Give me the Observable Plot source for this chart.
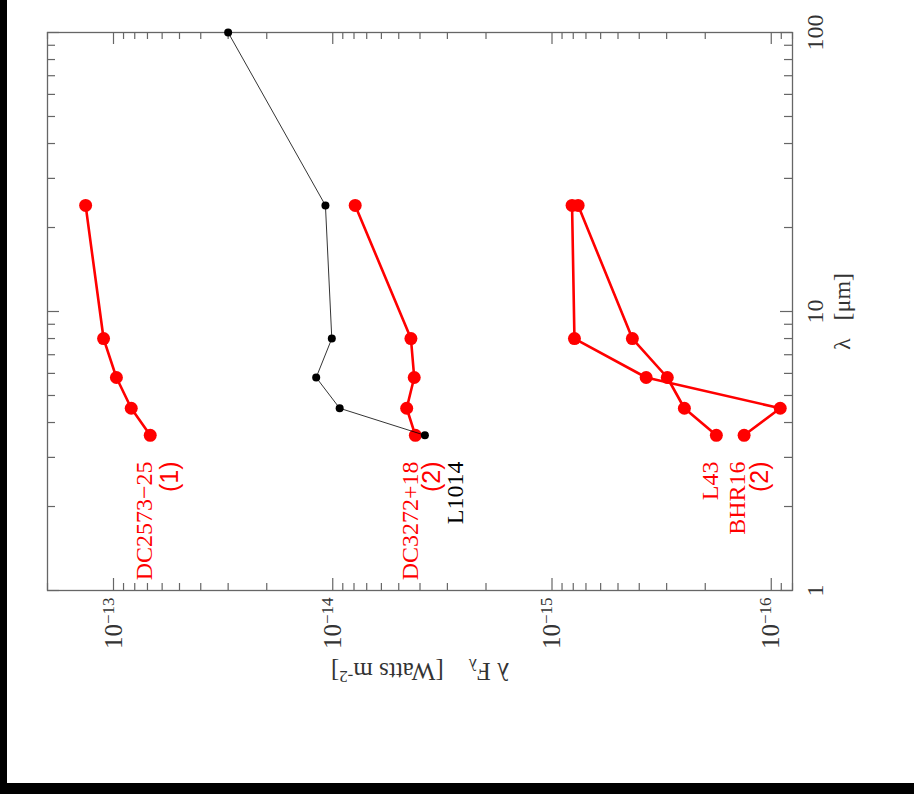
<!DOCTYPE html>
<html><head><meta charset="utf-8">
<script src="https://cdn.jsdelivr.net/npm/d3@7"></script>
<script src="https://cdn.jsdelivr.net/npm/@observablehq/plot@0.6"></script>
<style>
html,body{margin:0;padding:0;background:#000;width:914px;height:794px;overflow:hidden;}
#chart{position:absolute;left:7px;top:0;}
</style>
</head><body><div id="chart"></div>
<script>
// Wavelengths (micron)
const wavelengths = [3.6, 4.5, 5.8, 8.0, 24];
const l1014Wavelengths = [3.6, 4.5, 5.8, 8.0, 24, 100];
// lambda F_lambda (W m^-2)
const dc2573Flux = [6.8e-14, 8.3e-14, 9.7e-14, 1.11e-13, 1.34e-13];
const dc3272Flux = [4.2e-15, 4.6e-15, 4.25e-15, 4.4e-15, 7.9e-15];
const l43Flux = [1.78e-16, 2.49e-16, 2.98e-16, 4.3e-16, 7.6e-16];
const bhr16Flux = [1.33e-16, 9.1e-17, 3.72e-16, 7.9e-16, 8.1e-16];
const l1014Flux = [3.8e-15, 9.3e-15, 1.19e-14, 1.01e-14, 1.08e-14, 3.0e-14];

// Axis ticks
const fluxMajor = [1e-13, 1e-14, 1e-15, 1e-16];
const fluxTickLabels = ["10^{−13}", "10^{−14}", "10^{−15}", "10^{−16}"];
const lambdaMajor = [1, 10, 100];
const lambdaTickLabels = ["1", "10", "100"];

// Curve annotations (text, flux at label)
const labelLambda = 2.9;
const nameLabels = [
  {text: "DC2573−25", flux: 7.24e-14, color: "#f00"},
  {text: "DC3272+18", flux: 4.43e-15, color: "#f00"},
  {text: "L1014", flux: 2.75e-15, color: "#000"},
  {text: "L43", flux: 1.90e-16, color: "#f00"},
  {text: "BHR16", flux: 1.43e-16, color: "#f00"}
];
const refLabels = [
  {text: "(1)", flux: 5.54e-14},
  {text: "(2)", flux: 3.51e-15},
  {text: "(2)", flux: 1.12e-16}
];

// Build tables
const series = [
  {name: "DC2573-25", flux: dc2573Flux},
  {name: "DC3272+18", flux: dc3272Flux},
  {name: "L43", flux: l43Flux},
  {name: "BHR16", flux: bhr16Flux}
];
const redData = series.flatMap(s => s.flux.map((f, i) => ({name: s.name, lambda: wavelengths[i], flux: f})));
const l1014Data = l1014Flux.map((f, i) => ({lambda: l1014Wavelengths[i], flux: f}));

const fluxDomain = [2e-13, 8e-17];
const lambdaDomain = [1, 100];
const fluxMinor = [];
for (let e = -17; e <= -13; e++) for (let k = 2; k <= 9; k++) {
  const v = k * Math.pow(10, e);
  if (v <= fluxDomain[0] * 1.0001 && v >= fluxDomain[1] * 0.9999) fluxMinor.push(v);
}
const lambdaMinor = [];
for (let e = 0; e <= 1; e++) for (let k = 2; k <= 9; k++) lambdaMinor.push(k * Math.pow(10, e));

const W = 907, H = 783, mL = 40, mR = 122, mT = 32, mB = 193;
const PW = W - mL - mR, PH = H - mT - mB;
const tickColor = "#666";
const serif = "'Liberation Serif', 'DejaVu Serif', serif";

const plot = Plot.plot({
  width: W, height: H,
  marginLeft: mL, marginRight: mR, marginTop: mT, marginBottom: mB,
  style: {background: "#fff", overflow: "visible"},
  x: {type: "log", domain: fluxDomain, axis: null},
  y: {type: "log", domain: lambdaDomain, axis: null},
  marks: [
    Plot.frame({stroke: tickColor, strokeWidth: 1.3}),
    // flux ticks bottom & top
    Plot.tickX(fluxMajor, {x: d => d, insetTop: PH - 12, stroke: tickColor, strokeWidth: 1.2}),
    Plot.tickX(fluxMinor, {x: d => d, insetTop: PH - 7, stroke: tickColor, strokeWidth: 1.2}),
    Plot.tickX(fluxMajor, {x: d => d, insetBottom: PH - 12, stroke: tickColor, strokeWidth: 1.2}),
    Plot.tickX(fluxMinor, {x: d => d, insetBottom: PH - 7, stroke: tickColor, strokeWidth: 1.2}),
    // lambda ticks right & left
    Plot.tickY(lambdaMajor, {y: d => d, insetLeft: PW - 12, stroke: tickColor, strokeWidth: 1.2}),
    Plot.tickY(lambdaMinor, {y: d => d, insetLeft: PW - 8, stroke: tickColor, strokeWidth: 1.2}),
    Plot.tickY(lambdaMajor, {y: d => d, insetRight: PW - 12, stroke: tickColor, strokeWidth: 1.2}),
    Plot.tickY(lambdaMinor, {y: d => d, insetRight: PW - 8, stroke: tickColor, strokeWidth: 1.2}),
    // tick labels
    Plot.text(fluxMajor, {x: d => d, text: (d, i) => fluxTickLabels[i], frameAnchor: "bottom", dy: 7, rotate: -90,
      textAnchor: "end", lineAnchor: "middle", fontSize: 25, fontFamily: serif, fill: "#333"}),
    Plot.text(lambdaMajor, {y: d => d, text: (d, i) => lambdaTickLabels[i], frameAnchor: "right", dx: 23, rotate: -90,
      textAnchor: "middle", lineAnchor: "middle", fontSize: 24, fontFamily: serif, fill: "#333"}),
    // axis titles
    Plot.text(["λ   [μm]"], {frameAnchor: "right", dx: 50, rotate: -90, textAnchor: "middle", lineAnchor: "middle",
      fontSize: 24, fontFamily: serif, fill: "#333"}),
    Plot.text(["λ F_{λ}    [Watts m^{-2}]"], {frameAnchor: "bottom", dy: 80, rotate: 180, textAnchor: "middle", lineAnchor: "middle",
      fontSize: 25, fontFamily: serif, fill: "#333"}),
    // data
    Plot.line(redData, {x: "flux", y: "lambda", z: "name", stroke: "#f00", strokeWidth: 2.6}),
    Plot.dot(redData, {x: "flux", y: "lambda", r: 6.5, fill: "#f00"}),
    Plot.line(l1014Data, {x: "flux", y: "lambda", stroke: "#000", strokeWidth: 0.8}),
    Plot.dot(l1014Data, {x: "flux", y: "lambda", r: 4, fill: "#000"}),
    // annotations
    Plot.text(nameLabels, {x: "flux", y: () => labelLambda, text: "text", fill: "color", rotate: -90,
      textAnchor: "end", lineAnchor: "middle", fontSize: 24, fontFamily: serif}),
    Plot.text(refLabels, {x: "flux", y: () => labelLambda, text: "text", fill: "#f00", rotate: -90,
      textAnchor: "end", lineAnchor: "middle", fontSize: 25, fontFamily: "'Liberation Sans', Arial, sans-serif"})
  ]
});

// rich text: ^{...} superscript, _{...} subscript
d3.select(plot).selectAll("text").each(function() {
  const el = this;
  if (el.querySelector("tspan")) return;
  const s = el.textContent;
  if (!/[\^_]\{/.test(s)) return;
  el.textContent = "";
  const re = /([\^_])\{([^}]*)\}/g;
  let last = 0, m;
  while ((m = re.exec(s))) {
    if (m.index > last) {
      const t = document.createElementNS("http://www.w3.org/2000/svg", "tspan");
      t.textContent = s.slice(last, m.index);
      el.appendChild(t);
    }
    const t = document.createElementNS("http://www.w3.org/2000/svg", "tspan");
    t.textContent = m[2];
    t.setAttribute("font-size", "0.68em");
    t.setAttribute("baseline-shift", m[1] === "^" ? "45%" : "-25%");
    el.appendChild(t);
    last = re.lastIndex;
  }
  if (last < s.length) {
    const t = document.createElementNS("http://www.w3.org/2000/svg", "tspan");
    t.textContent = s.slice(last);
    el.appendChild(t);
  }
});

document.getElementById("chart").appendChild(plot);
</script>
</body></html>
